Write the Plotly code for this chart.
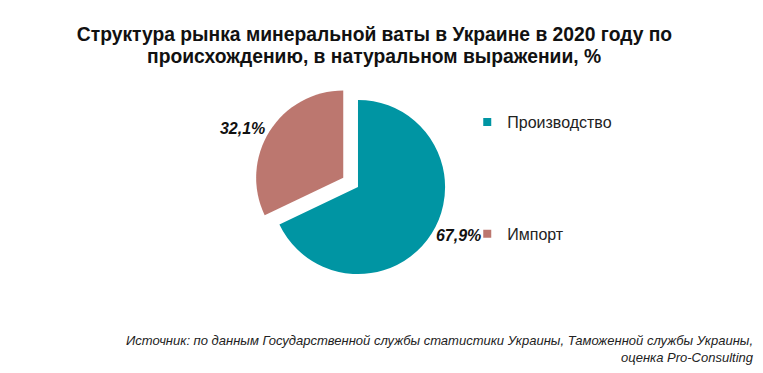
import plotly.graph_objects as go

categories = ["Производство", "Импорт"]
values = [67.9, 32.1]
colors = ["#0095A3", "#BC776F"]
pulls = [0, 0.2]
title_line1 = "Структура рынка минеральной ваты в Украине в 2020 году по"
title_line2 = "происхождению, в натуральном выражении, %"
source_text = "Источник: по данным Государственной службы статистики Украины, Таможенной службы Украины,<br>оценка Pro-Consulting"

labels_text = [f"{v:.1f}%".replace(".", ",") for v in values]

FONT = "Liberation Sans, Arial, sans-serif"

fig = go.Figure()
fig.add_trace(go.Pie(
    labels=categories,
    values=values,
    text=labels_text,
    textinfo="text",
    textposition="outside",
    textfont=dict(family=FONT, size=16, color="#111111"),
    texttemplate="<b><i>%{text}</i></b>",
    marker=dict(colors=colors, line=dict(width=0)),
    pull=pulls,
    sort=False,
    direction="clockwise",
    rotation=0,
    showlegend=False,
    hoverinfo="label+percent",
    domain=dict(x=[0.3217, 0.5957], y=[0.2399, 0.8003]),
))

for i, (c, col) in enumerate(zip(categories, colors)):
    fig.add_trace(go.Scatter(
        x=[None], y=[None], mode="markers", name=c,
        marker=dict(symbol="square", size=8, color=col),
        legendgroup=f"g{i}", showlegend=True,
    ))

fig.update_layout(
    width=763, height=373,
    margin=dict(l=0, r=0, t=0, b=0),
    paper_bgcolor="white", plot_bgcolor="white",
    title=dict(text=f"<b>{title_line1}</b>", x=0.4803, xanchor="center",
               y=0.9284, yanchor="middle",
               font=dict(family=FONT, size=19.3, color="#111111")),
    xaxis=dict(visible=False), yaxis=dict(visible=False),
    legend=dict(x=0.6019, xanchor="left", y=0.740, yanchor="top",
                font=dict(family=FONT, size=16, color="#222222"),
                tracegroupgap=88, itemwidth=30, bgcolor="rgba(0,0,0,0)"),
    annotations=[
        dict(text=f"<b>{title_line2}</b>", xref="paper", yref="paper",
             x=0.4803, y=0.870, xanchor="center", yanchor="middle",
             showarrow=False,
             font=dict(family=FONT, size=19.3, color="#111111")),
        dict(text=f"<i>{source_text}</i>", xref="paper", yref="paper",
             x=0.9802, y=0.134, xanchor="right", yanchor="top", align="right",
             showarrow=False,
             font=dict(family=FONT, size=13, color="#222222")),
    ],
)

fig.write_html("out.html")
